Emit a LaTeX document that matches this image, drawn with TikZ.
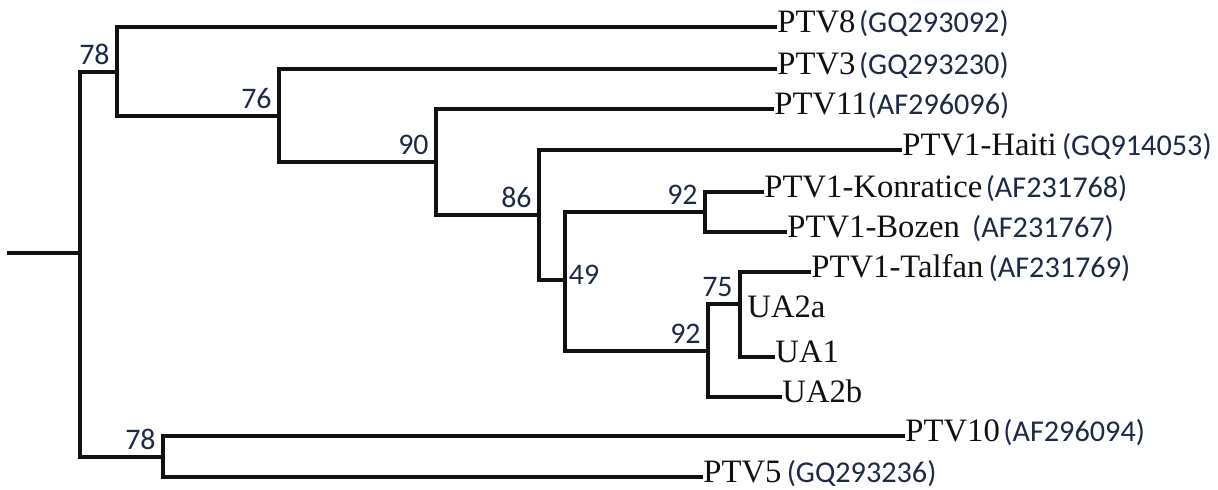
\documentclass[tikz,border=0pt]{standalone}
\usepackage{fontspec}
\setmainfont{Liberation Serif}
\newfontfamily\accfont{Carlito}
\usetikzlibrary{calc}
\definecolor{ink}{HTML}{111111}
\definecolor{accink}{HTML}{1C2A48}
\newcommand{\acc}[1]{{\accfont\fontsize{17.2}{19}\selectfont\color{accink}#1}}

\begin{document}
\begin{tikzpicture}[
    x=0.02cm, y=-0.02cm,
    branch/.style={draw=ink, line width=2.3pt, line cap=rect},
    % Taxon label
    taxon/.style={anchor=west, inner sep=1.2pt, text=ink, text height=0.66em, text depth=0pt,
                  font=\fontsize{18.6}{20}\selectfont},
    % Bootstrap value
    boot/.style={anchor=south east, inner sep=0pt, xshift=-4pt, yshift=4pt, text=accink,
                 font=\accfont\fontsize{17}{19}\selectfont},
    bootr/.style={boot, anchor=west, xshift=6pt, yshift=-1pt}
]
\useasboundingbox (0,0) rectangle (1218,490);

% ========== Internal nodes ==========
\coordinate (root) at (9,253);
\coordinate (n1)   at (80,253);
\coordinate (n78a) at (117,72);
\coordinate (n76)  at (279,116);
\coordinate (n90)  at (436,162);
\coordinate (n86)  at (539,215);
\coordinate (n49)  at (565,280);
\coordinate (n92a) at (705,212);
\coordinate (n92b) at (708,351);
\coordinate (n75)  at (740,304);
\coordinate (n78b) at (163,457);

% ========== Leaves ==========
\node[taxon] at (775,27)  (tPTV8)  {PTV8\hspace{2pt}\acc{(GQ293092)}};
\node[taxon] at (775,69)  (tPTV3)  {PTV3\hspace{2pt}\acc{(GQ293230)}};
\node[taxon] at (772,109) (tPTV11) {PTV11\acc{(AF296096)}};
\node[taxon] at (900,150) (tHaiti) {PTV1-Haiti\hspace{3pt}\acc{(GQ914053)}};
\node[taxon] at (762,192) (tKonr)  {PTV1-Konratice\hspace{2pt}\acc{(AF231768)}};
\node[taxon] at (785,232) (tBoz)   {PTV1-Bozen\hspace{7pt}\acc{(AF231767)}};
\node[taxon] at (809,272) (tTalf)  {PTV1-Talfan\hspace{3pt}\acc{(AF231769)}};
\node[taxon] at (745,312) (tUAa)   {UA2a};
\node[taxon] at (773,357) (tUA1)   {UA1};
\node[taxon] at (780,397) (tUAb)   {UA2b};
\node[taxon] at (903,436) (tPTV10) {PTV10\hspace{2pt}\acc{(AF296094)}};
\node[taxon] at (701,477) (tPTV5)  {PTV5\hspace{3pt}\acc{(GQ293236)}};

% ========== Branches ==========
\draw[branch] (root) -- (n1);
\draw[branch] (n1) |- (n78a);
\draw[branch] (n1) |- (n78b);
% --- upper clade ---
\draw[branch] (n78a) |- (tPTV8);
\draw[branch] (n78a) |- (n76);
\draw[branch] (n76) |- (tPTV3);
\draw[branch] (n76) |- (n90);
\draw[branch] (n90) |- (tPTV11);
\draw[branch] (n90) |- (n86);
\draw[branch] (n86) |- (tHaiti);
\draw[branch] (n86) |- (n49);
\draw[branch] (n49) |- (n92a);
\draw[branch] (n49) |- (n92b);
\draw[branch] (n92a) |- (tKonr);
\draw[branch] (n92a) |- (tBoz);
\draw[branch] (n92b) |- (n75);
\draw[branch] (n92b) |- (tUAb);
\draw[branch] (n75) |- (tTalf);
\draw[branch] (n75) |- (tUA1);
% --- lower clade ---
\draw[branch] (n78b) |- (tPTV10);
\draw[branch] (n78b) |- (tPTV5);

% ========== Bootstrap values ==========
\node[boot] at (n78a) (b78a) {78};
\node[boot] at (n76)  (b76)  {76};
\node[boot] at (n90)  (b90)  {90};
\node[boot] at (n86)  (b86)  {86};
\node[bootr] at (n49) (b49)  {49};
\node[boot] at (n92a) (b92a) {92};
\node[boot] at (n92b) (b92b) {92};
\node[boot] at (n75)  (b75)  {75};
\node[boot] at (n78b) (b78b) {78};

\end{tikzpicture}
\end{document}
